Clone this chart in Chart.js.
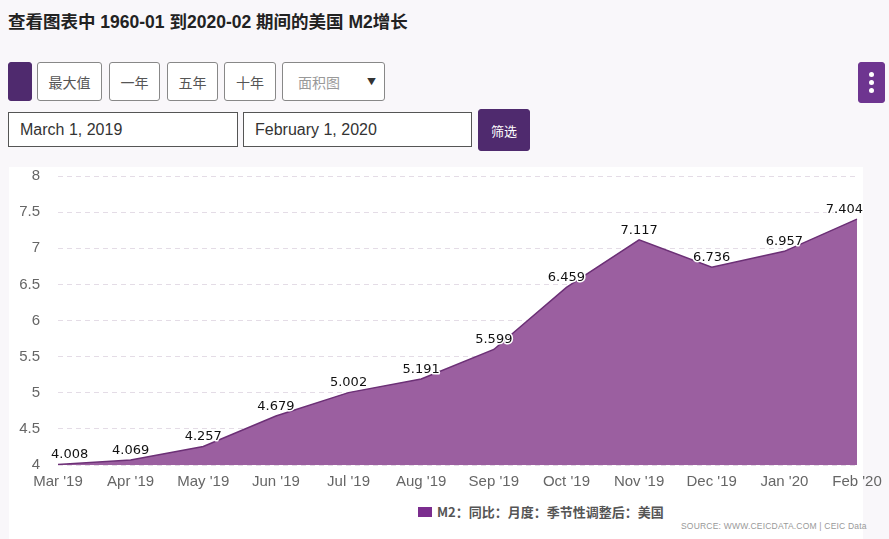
<!DOCTYPE html>
<html><head><meta charset="utf-8">
<script src="https://cdn.jsdelivr.net/npm/chart.js@4"></script>
<style>
html,body{margin:0;padding:0;}
body{width:889px;height:539px;background:#f9f7fa;position:relative;overflow:hidden;font-family:"Liberation Sans",Arial,"Noto Sans CJK SC",sans-serif;}
.title{position:absolute;left:8px;top:8px;font-size:17.5px;font-weight:bold;color:#222;font-family:"Liberation Sans",Arial,"Noto Sans CJK SC",sans-serif;}
.btn{position:absolute;top:62px;height:39px;border:1px solid #888;border-radius:3px;background:#fff;box-sizing:border-box;font-size:14px;color:#555;display:flex;align-items:center;justify-content:center;font-family:"Noto Sans CJK SC",sans-serif;}
.inp{position:absolute;top:112px;height:35px;border:1px solid #555;background:#fff;box-sizing:border-box;font-size:16px;color:#333;padding-left:11px;display:flex;align-items:center;}
.panel{position:absolute;left:9px;top:167px;width:854px;height:372px;background:#fff;}
#wrap{position:absolute;left:9px;top:149px;width:880px;height:343px;}
.legend{position:absolute;left:418px;top:502px;font-size:13px;font-weight:bold;color:#555;display:flex;align-items:center;font-family:"Noto Sans CJK SC",sans-serif;}
.legend span.sw{display:inline-block;width:14px;height:10px;background:#7b2d8e;margin-right:5px;}
.src{position:absolute;left:681px;top:521px;font-size:8.5px;color:#999;letter-spacing:0.2px;}
</style></head>
<body>
<div class="title">查看图表中 1960-01 到2020-02 期间的美国 M2增长</div>
<div class="btn" style="left:8px;width:24px;background:#4f2a6e;border-color:#4f2a6e;"></div>
<div class="btn" style="left:37px;width:65px;">最大值</div>
<div class="btn" style="left:109px;width:51px;">一年</div>
<div class="btn" style="left:167px;width:51px;">五年</div>
<div class="btn" style="left:224px;width:52px;">十年</div>
<div class="btn" style="left:282px;width:103px;justify-content:flex-start;padding-left:15px;color:#999;">面积图<span style="position:absolute;right:8px;font-size:9px;color:#333;">▼</span></div>
<div class="btn" style="left:858px;top:62px;width:27px;height:41px;background:#6e3590;border-color:#6e3590;flex-direction:column;gap:3px;">
<span style="width:5px;height:5px;border-radius:50%;background:#fff;display:block"></span>
<span style="width:5px;height:5px;border-radius:50%;background:#fff;display:block"></span>
<span style="width:5px;height:5px;border-radius:50%;background:#fff;display:block"></span></div>
<div class="inp" style="left:8px;width:230px;">March 1, 2019</div>
<div class="inp" style="left:243px;width:229px;">February 1, 2020</div>
<div class="btn" style="left:478px;top:109px;width:52px;height:42px;background:#4f2a6e;border-color:#4f2a6e;color:#fff;font-size:13px;">筛选</div>
<div class="panel"></div>
<div id="wrap"><canvas id="c"></canvas></div>
<div class="legend"><span class="sw"></span>M2：同比：月度：季节性调整后：美国</div>
<div class="src">SOURCE: WWW.CEICDATA.COM | CEIC Data</div>
<script>
const categories = ["Mar '19","Apr '19","May '19","Jun '19","Jul '19","Aug '19","Sep '19","Oct '19","Nov '19","Dec '19","Jan '20","Feb '20"];
const m2Values = [4.008,4.069,4.257,4.679,5.002,5.191,5.599,6.459,7.117,6.736,6.957,7.404];
const seriesName = "M2：同比：月度：季节性调整后：美国";
const yTicks = [4,4.5,5,5.5,6,6.5,7,7.5,8];
const PANEL_RIGHT = 854; // canvas px

const labelPlugin = {
  id:'valueLabels',
  afterDatasetsDraw(chart){
    const ctx = chart.ctx;
    const meta = chart.getDatasetMeta(0);
    ctx.save();
    ctx.font = '13px "DejaVu Sans", Verdana, sans-serif';
    ctx.textAlign='center';
    ctx.textBaseline='bottom';
    meta.data.forEach((pt,i)=>{
      const txt = m2Values[i].toFixed(3);
      const w = ctx.measureText(txt).width;
      let x = pt.x;
      x = Math.max(x, chart.chartArea.left - 7 + w/2);
      x = Math.min(x, PANEL_RIGHT - w/2);
      const y = pt.y - 3;
      ctx.lineWidth = 3; ctx.strokeStyle='#fff'; ctx.lineJoin='round';
      ctx.strokeText(txt,x,y);
      ctx.fillStyle='#111';
      ctx.fillText(txt,x,y);
    });
    ctx.restore();
  }
};

new Chart(document.getElementById('c'),{
  type:'line',
  data:{labels:categories,datasets:[{label:seriesName,data:m2Values,fill:'origin',
    backgroundColor:'rgb(155,95,160)',borderColor:'rgb(108,48,118)',borderWidth:1.5,
    pointRadius:0,tension:0}]},
  options:{
    responsive:true,maintainAspectRatio:false,animation:false,
    layout:{padding:{top:8,right:32,left:0,bottom:0}},
    plugins:{legend:{display:false},tooltip:{enabled:false}},
    scales:{
      x:{offset:false,grid:{display:false},border:{display:false},
        ticks:{color:'#666',font:{size:15,family:'"Liberation Sans", Arial, sans-serif'},maxRotation:0,autoSkip:false,padding:0}},
      y:{min:4,max:8,afterFit(s){s.width=49;},afterBuildTicks(s){s.ticks=yTicks.map(v=>({value:v}));},
        grid:{color:'#e4dce6',borderDash:[5,4],drawTicks:false},border:{display:false,dash:[5,4]},
        ticks:{color:'#666',padding:18,font:{size:15,family:'"Liberation Sans", Arial, sans-serif'},callback:(v)=>String(v)}}
    }
  },
  plugins:[labelPlugin]
});
</script>
</body></html>
